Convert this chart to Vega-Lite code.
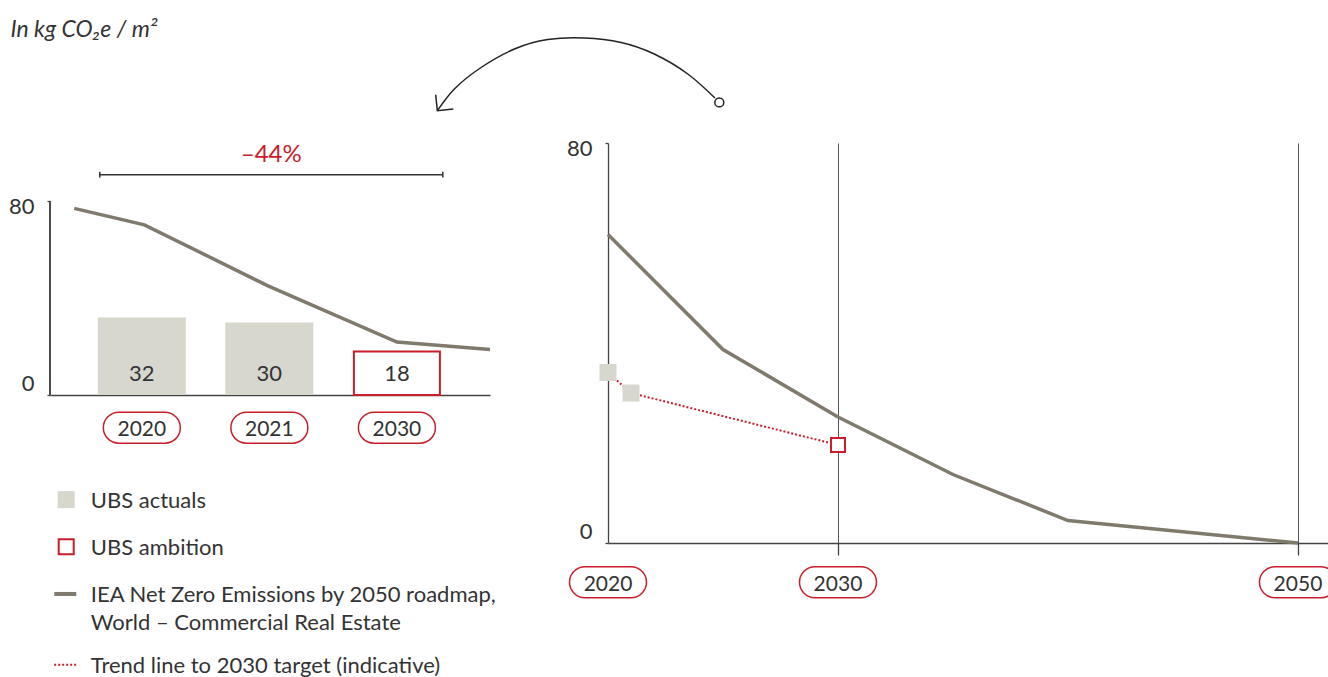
{
  "$schema": "https://vega.github.io/schema/vega-lite/v6.json",
  "background": "white",
  "padding": {"left": 8, "top": 18, "right": 0, "bottom": 0},
  "config": {
    "view": {"stroke": null},
    "font": "Lato",
    "text": {"font": "Lato", "color": "#333333"},
    "axis": {
      "labelFont": "Lato",
      "labelColor": "#333333",
      "labelFontSize": 22,
      "domainColor": "#444444",
      "domainWidth": 1.3,
      "tickColor": "#444444",
      "tickWidth": 1.3,
      "gridColor": "#555555",
      "gridWidth": 1,
      "title": null
    }
  },
  "title": {
    "text": "In kg CO₂e / m²",
    "anchor": "start",
    "font": "Lato",
    "fontSize": 23,
    "fontStyle": "italic",
    "fontWeight": "normal",
    "color": "#333333",
    "offset": -7,
    "dx": 2
  },
  "datasets": {
    "bars": [
      {"year": "2020", "slot": 0, "value": 32, "type": "actual"},
      {"year": "2021", "slot": 1, "value": 30, "type": "actual"},
      {"year": "2030", "slot": 2, "value": 18, "type": "ambition"}
    ],
    "ieaShort": [
      {"slot": -0.53, "value": 77.1},
      {"slot": 0.02, "value": 70.3},
      {"slot": 0.985, "value": 45.2},
      {"slot": 2, "value": 21.9},
      {"slot": 2.73, "value": 18.8}
    ],
    "bracket": [{"from": -0.33, "to": 2.36, "label": "–44%"}],
    "iea": [
      {"year": 2020, "value": 61.7},
      {"year": 2025, "value": 38.7},
      {"year": 2030, "value": 25.2},
      {"year": 2035, "value": 13.7},
      {"year": 2040, "value": 4.5},
      {"year": 2050, "value": 0}
    ],
    "ubs": [
      {"year": 2020, "value": 34.1, "type": "actual"},
      {"year": 2021, "value": 30, "type": "actual"},
      {"year": 2030, "value": 19.6, "type": "ambition"}
    ],
    "milestones": [{"year": 2020}, {"year": 2030}, {"year": 2050}],
    "arrow": [
      {"year": 2012.58, "value": 86.46, "part": "arc"},
      {"year": 2013.32, "value": 90.8, "part": "arc"},
      {"year": 2014.48, "value": 95.1, "part": "arc"},
      {"year": 2015.93, "value": 98.8, "part": "arc"},
      {"year": 2017.38, "value": 100.7, "part": "arc"},
      {"year": 2018.97, "value": 101.0, "part": "arc"},
      {"year": 2020.57, "value": 100.1, "part": "arc"},
      {"year": 2022.01, "value": 97.8, "part": "arc"},
      {"year": 2023.47, "value": 93.8, "part": "arc"},
      {"year": 2024.65, "value": 89.0, "part": "arc"},
      {"year": 2024.84, "value": 88.12, "part": "origin"},
      {"year": 2012.58, "value": 86.46, "part": "head"}
    ],
    "legend": [
      {"item": "actual", "label": "UBS actuals", "row": 0},
      {"item": "ambition", "label": "UBS ambition", "row": 1},
      {"item": "iea", "label": "IEA Net Zero Emissions by 2050 roadmap,\nWorld – Commercial Real Estate", "row": 2},
      {"item": "trend", "label": "Trend line to 2030 target (indicative)", "row": 3.5}
    ]
  },
  "spacing": 118,
  "bounds": "flush",
  "hconcat": [
    {
      "width": 440,
      "height": 252,
      "resolve": {"scale": {"y": "independent"}},
      "layer": [
        {
          "layer": [
            {
              "data": {"name": "bars"},
              "transform": [{"filter": "datum.type == 'actual'"}],
              "mark": {"type": "bar", "orient": "vertical", "width": 88, "color": "#d7d7ce"},
              "encoding": {
                "x": {"field": "slot", "type": "quantitative", "scale": {"domain": [-0.72, 2.73], "nice": false, "zero": false, "padding": 0}, "axis": {"labels": false, "ticks": false, "grid": false, "domain": true}},
                "y": {"field": "value", "type": "quantitative", "scale": {"domain": [0, 104.1], "nice": false, "padding": 0}, "axis": {"values": [0, 80], "grid": false, "domain": false, "tickSize": 3, "labelPadding": 13, "labelBaseline": {"condition": {"test": "datum.value == 80", "value": "top"}, "value": "bottom"}, "labelOffset": {"condition": {"test": "datum.value == 80", "value": -5}, "value": 0}}}
              }
            },
            {
              "data": {"name": "bars"},
              "mark": {"type": "rule", "color": "#444444", "strokeWidth": 1.3},
              "encoding": {
                "x": {"datum": -0.72, "type": "quantitative"},
                "y": {"datum": 0, "type": "quantitative"},
                "y2": {"datum": 80}
              }
            },
            {
              "data": {"name": "bars"},
              "transform": [{"filter": "datum.type == 'ambition'"}],
              "mark": {"type": "bar", "orient": "vertical", "width": 86, "fill": "white", "stroke": "#c91d2a", "strokeWidth": 2},
              "encoding": {
                "x": {"field": "slot", "type": "quantitative"},
                "y": {"field": "value", "type": "quantitative"}
              }
            },
            {
              "data": {"name": "ieaShort"},
              "mark": {"type": "line", "color": "#7f7a6c", "strokeWidth": 3.5},
              "encoding": {
                "x": {"field": "slot", "type": "quantitative"},
                "y": {"field": "value", "type": "quantitative"}
              }
            },
            {
              "data": {"name": "bars"},
              "mark": {"type": "text", "fontSize": 22, "baseline": "alphabetic", "dy": -13.7},
              "encoding": {
                "x": {"field": "slot", "type": "quantitative"},
                "y": {"datum": 0, "type": "quantitative"},
                "text": {"field": "value", "type": "quantitative"}
              }
            },
            {
              "data": {"name": "bars"},
              "mark": {"type": "bar", "orient": "vertical", "width": 77, "cornerRadius": 15.5, "fill": "white", "stroke": "#c91d2a", "strokeWidth": 1.5},
              "encoding": {
                "x": {"field": "slot", "type": "quantitative"},
                "y": {"datum": -7.1, "type": "quantitative"},
                "y2": {"datum": -19.9}
              }
            },
            {
              "data": {"name": "bars"},
              "mark": {"type": "text", "fontSize": 21, "baseline": "alphabetic"},
              "encoding": {
                "x": {"field": "slot", "type": "quantitative"},
                "y": {"datum": -17.0, "type": "quantitative"},
                "text": {"field": "year", "type": "nominal"}
              }
            },
            {
              "data": {"name": "bracket"},
              "mark": {"type": "rule", "color": "#333333", "strokeWidth": 1.5},
              "encoding": {
                "x": {"field": "from", "type": "quantitative"},
                "x2": {"field": "to"},
                "y": {"datum": 91, "type": "quantitative"}
              }
            },
            {
              "data": {"name": "bracket"},
              "transform": [{"fold": ["from", "to"], "as": ["end", "pos"]}],
              "mark": {"type": "rule", "color": "#333333", "strokeWidth": 1.5},
              "encoding": {
                "x": {"field": "pos", "type": "quantitative"},
                "y": {"datum": 89.8, "type": "quantitative"},
                "y2": {"datum": 92.2}
              }
            },
            {
              "data": {"name": "bracket"},
              "mark": {"type": "text", "fontSize": 24, "color": "#c91d2a", "baseline": "alphabetic", "align": "center"},
              "encoding": {
                "x": {"datum": 1.015, "type": "quantitative"},
                "y": {"datum": 96.4, "type": "quantitative"},
                "text": {"field": "label"}
              }
            }
          ]
        },
        {
          "data": {"name": "legend"},
          "encoding": {
            "y": {"field": "row", "type": "quantitative", "scale": {"domain": [-7.565, -2.22], "reverse": true, "nice": false, "zero": false}, "axis": null}
          },
          "layer": [
            {
              "transform": [{"filter": "datum.item == 'actual'"}],
              "mark": {"type": "point", "shape": "square", "size": 289, "filled": true, "color": "#d7d7ce", "opacity": 1},
              "encoding": {"x": {"datum": -0.593, "type": "quantitative"}}
            },
            {
              "transform": [{"filter": "datum.item == 'ambition'"}],
              "mark": {"type": "point", "shape": "square", "size": 225, "filled": false, "fill": "white", "stroke": "#c91d2a", "strokeWidth": 2, "opacity": 1},
              "encoding": {"x": {"datum": -0.593, "type": "quantitative"}}
            },
            {
              "transform": [{"filter": "datum.item == 'iea'"}],
              "mark": {"type": "point", "shape": "stroke", "size": 484, "filled": false, "stroke": "#7f7a6c", "strokeWidth": 4, "opacity": 1},
              "encoding": {"x": {"datum": -0.6, "type": "quantitative"}}
            },
            {
              "transform": [{"filter": "datum.item == 'trend'"}],
              "mark": {"type": "point", "shape": "stroke", "size": 576, "filled": false, "stroke": "#c91d2a", "strokeWidth": 2, "strokeDash": [2, 2], "opacity": 1},
              "encoding": {"x": {"datum": -0.593, "type": "quantitative"}}
            },
            {
              "mark": {"type": "text", "fontSize": 22, "align": "left", "baseline": "alphabetic", "dy": 8.3, "lineBreak": "\n", "lineHeight": 27.5},
              "encoding": {
                "x": {"datum": -0.4, "type": "quantitative"},
                "text": {"field": "label"}
              }
            }
          ]
        }
      ]
    },
    {
      "width": 721,
      "height": 400,
      "layer": [
        {
          "data": {"name": "iea"},
          "mark": {"type": "line", "color": "#7f7a6c", "strokeWidth": 3.5},
          "encoding": {
            "x": {"field": "year", "type": "quantitative", "scale": {"domain": [2020, 2051.35], "nice": false, "zero": false, "padding": 0}, "axis": {"values": [2030, 2050], "grid": true, "labels": false, "ticks": true, "tickSize": 12, "domain": true}},
            "y": {"field": "value", "type": "quantitative", "scale": {"domain": [0, 80], "nice": false, "padding": 0}, "axis": {"values": [0, 80], "grid": false, "labelFlush": true, "tickSize": 3, "labelPadding": 13, "labelOffset": {"condition": {"test": "datum.value == 80", "value": -5}, "value": 0}}}
          }
        },
        {
          "data": {"name": "ubs"},
          "mark": {"type": "line", "color": "#c91d2a", "strokeWidth": 2, "strokeDash": [2, 2]},
          "encoding": {
            "x": {"field": "year", "type": "quantitative"},
            "y": {"field": "value", "type": "quantitative"}
          }
        },
        {
          "data": {"name": "ubs"},
          "transform": [{"filter": "datum.type == 'actual'"}],
          "mark": {"type": "point", "shape": "square", "size": 289, "filled": true, "color": "#d7d7ce", "opacity": 1},
          "encoding": {
            "x": {"field": "year", "type": "quantitative"},
            "y": {"field": "value", "type": "quantitative"}
          }
        },
        {
          "data": {"name": "ubs"},
          "transform": [{"filter": "datum.type == 'ambition'"}],
          "mark": {"type": "point", "shape": "square", "size": 196, "filled": false, "fill": "white", "stroke": "#c91d2a", "strokeWidth": 2, "opacity": 1},
          "encoding": {
            "x": {"field": "year", "type": "quantitative"},
            "y": {"field": "value", "type": "quantitative"}
          }
        },
        {
          "data": {"name": "milestones"},
          "mark": {"type": "bar", "orient": "vertical", "width": 77, "cornerRadius": 15.5, "fill": "white", "stroke": "#c91d2a", "strokeWidth": 1.5},
          "encoding": {
            "x": {"field": "year", "type": "quantitative"},
            "y": {"datum": -4.74, "type": "quantitative"},
            "y2": {"datum": -10.94}
          }
        },
        {
          "data": {"name": "milestones"},
          "mark": {"type": "text", "fontSize": 21, "baseline": "alphabetic"},
          "encoding": {
            "x": {"field": "year", "type": "quantitative"},
            "y": {"datum": -9.5, "type": "quantitative"},
            "text": {"field": "year", "type": "quantitative", "format": "d"}
          }
        },
        {
          "data": {"name": "arrow"},
          "transform": [{"filter": "datum.part == 'arc'"}],
          "mark": {"type": "line", "interpolate": "natural", "color": "#222222", "strokeWidth": 1.5},
          "encoding": {
            "x": {"field": "year", "type": "quantitative"},
            "y": {"field": "value", "type": "quantitative"}
          }
        },
        {
          "data": {"name": "arrow"},
          "transform": [{"filter": "datum.part == 'origin'"}],
          "mark": {"type": "point", "shape": "circle", "size": 80, "filled": false, "fill": "white", "stroke": "#222222", "strokeWidth": 1.5, "opacity": 1},
          "encoding": {
            "x": {"field": "year", "type": "quantitative"},
            "y": {"field": "value", "type": "quantitative"}
          }
        },
        {
          "data": {"name": "arrow"},
          "transform": [{"filter": "datum.part == 'head'"}],
          "mark": {"type": "point", "shape": "M0,-1L0,0L1,0", "size": 1024, "angle": -6, "filled": false, "stroke": "#222222", "strokeWidth": 1.5, "opacity": 1},
          "encoding": {
            "x": {"field": "year", "type": "quantitative"},
            "y": {"field": "value", "type": "quantitative"}
          }
        }
      ]
    }
  ]
}
